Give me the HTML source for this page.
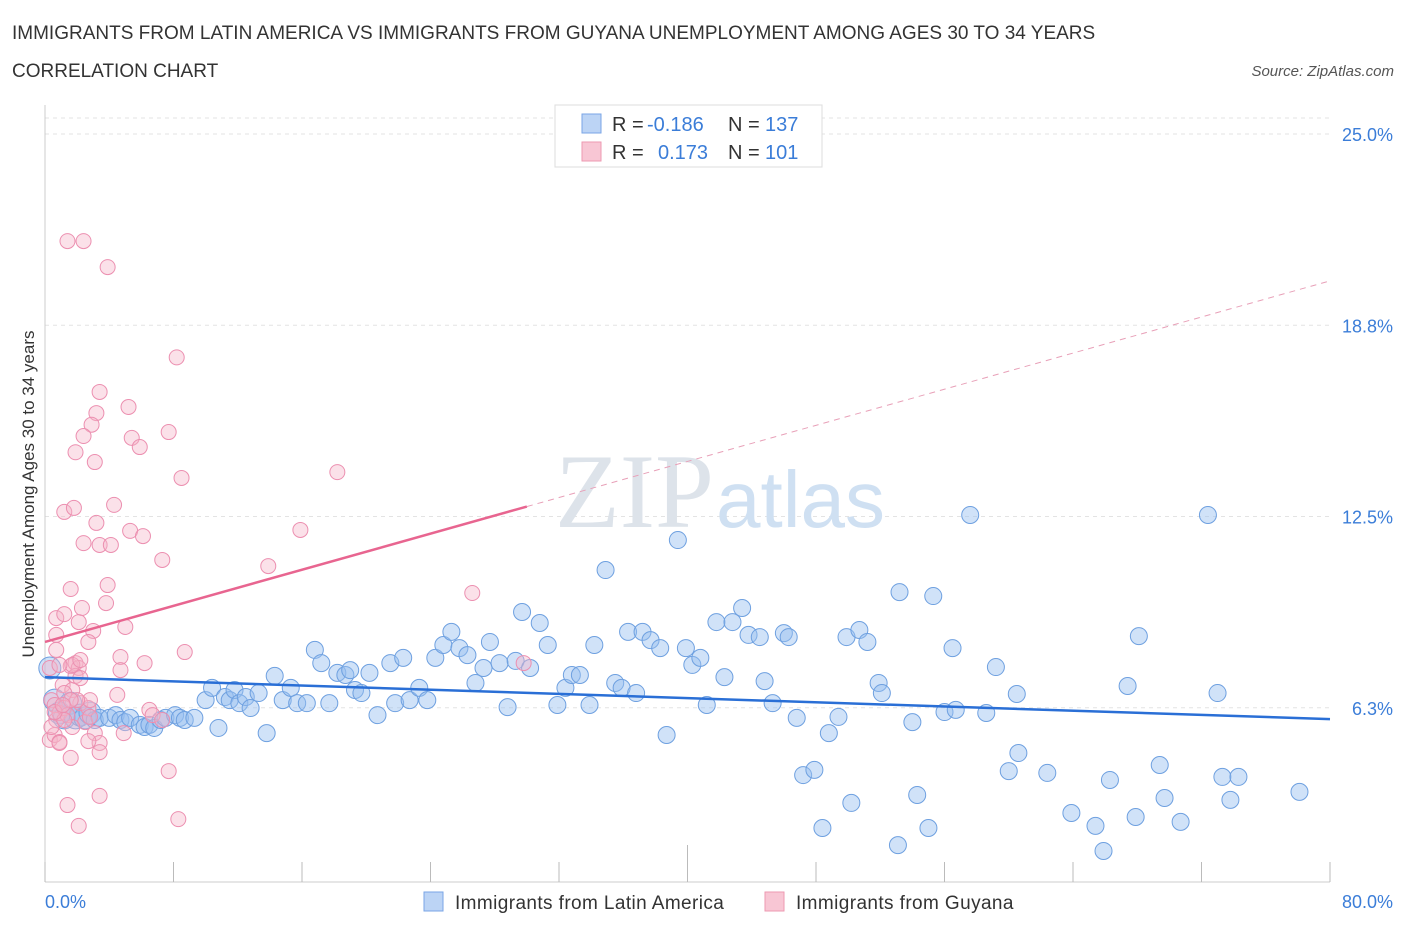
<!DOCTYPE html>
<html><head><meta charset="utf-8">
<style>
body{margin:0;background:#fff;font-family:"Liberation Sans",sans-serif;}
#wrap{position:relative;width:1406px;height:930px;overflow:hidden;}
</style></head>
<body>
<div id="wrap">
<svg id="chart" width="1406" height="930" xmlns="http://www.w3.org/2000/svg">
<text x="12" y="39" font-size="19" fill="#333">IMMIGRANTS FROM LATIN AMERICA VS IMMIGRANTS FROM GUYANA UNEMPLOYMENT AMONG AGES 30 TO 34 YEARS</text>
<text x="12" y="77" font-size="19" fill="#333">CORRELATION CHART</text>
<text x="1394" y="76" font-size="15" fill="#555" font-style="italic" text-anchor="end">Source: ZipAtlas.com</text>
<g id="grid"></g>
<text x="714" y="527" font-size="106" fill="#dde3ea" text-anchor="end" font-family="Liberation Serif,serif">ZIP</text>
<text x="716" y="527" font-size="80" fill="#cfe0f2">atlas</text>
<g id="axes"></g>
<g id="marks"></g>
<text transform="translate(34,494) rotate(-90)" font-size="17" fill="#333" text-anchor="middle">Unemployment Among Ages 30 to 34 years</text>
<text x="45" y="908" font-size="18" fill="#3b7dd8">0.0%</text>
<text x="1393" y="908" font-size="18" fill="#3b7dd8" text-anchor="end">80.0%</text>
<g>
<rect x="555" y="105" width="267" height="62" fill="#fff" stroke="#ddd"/>
<rect x="582" y="114" width="19" height="19" fill="#bcd4f5" stroke="#7aa5e6"/>
<rect x="582" y="142" width="19" height="19" fill="#f8c6d4" stroke="#ee99b2"/>
<text x="612" y="131" font-size="20" fill="#333">R =</text>
<text x="647" y="131" font-size="20" fill="#3b7dd8">-0.186</text>
<text x="728" y="131" font-size="20" fill="#333">N =</text>
<text x="765" y="131" font-size="20" fill="#3b7dd8">137</text>
<text x="612" y="159" font-size="20" fill="#333">R =</text>
<text x="658" y="159" font-size="20" fill="#3b7dd8">0.173</text>
<text x="728" y="159" font-size="20" fill="#333">N =</text>
<text x="765" y="159" font-size="20" fill="#3b7dd8">101</text>
</g>
<g>
<rect x="424" y="892" width="19" height="19" fill="#bcd4f5" stroke="#7aa5e6"/>
<text x="455" y="909" font-size="19" letter-spacing="0.4" fill="#333">Immigrants from Latin America</text>
<rect x="765" y="892" width="19" height="19" fill="#f8c6d4" stroke="#ee99b2"/>
<text x="796" y="909" font-size="19" letter-spacing="0.4" fill="#333">Immigrants from Guyana</text>
</g>
</svg>
</div>
<script>
const yTicks=[6.25,12.5,18.75,25];
const yTickLabels=["6.3%","12.5%","18.8%","25.0%"];
const xTicks=[0,8,16,24,32,40,48,56,64,72,80];
const blueX=[0.3,0.6,0.9,1.2,1.6,1.9,2.2,2.5,2.8,3.1,3.4,4.0,4.4,4.7,5.0,5.3,5.9,6.2,6.5,6.8,7.2,7.5,8.1,8.4,8.7,9.3,10.0,10.4,10.8,11.2,11.5,11.8,12.1,12.5,12.8,13.3,13.8,14.3,14.8,15.3,15.7,16.3,16.8,17.2,17.7,18.2,18.7,19.0,19.3,19.7,20.2,20.7,21.5,21.8,22.3,22.7,23.3,23.8,24.3,24.8,25.3,25.8,26.3,26.8,27.3,27.7,28.3,28.8,29.3,29.7,30.2,30.8,31.3,31.9,32.4,32.8,33.3,33.9,34.2,34.9,35.5,35.9,36.3,36.8,37.2,37.7,38.3,38.7,39.4,39.9,40.3,40.8,41.2,41.8,42.3,42.8,43.4,43.8,44.5,44.8,45.3,46.0,46.3,46.8,47.2,47.9,48.4,48.8,49.4,49.9,50.2,50.7,51.2,51.9,52.1,53.1,53.2,54.0,54.3,55.0,55.3,56.0,56.5,56.7,57.6,58.6,59.2,60.0,60.5,60.6,62.4,63.9,65.4,65.9,66.3,67.4,67.9,68.1,69.4,69.7,70.7,72.4,73.0,73.3,73.8,74.3,78.1];
const blueY=[7.55,6.5,6.08,5.92,6.4,5.92,6.01,5.92,6.08,5.85,5.92,5.92,6.01,5.85,5.78,5.92,5.69,5.62,5.69,5.59,5.85,5.92,6.01,5.92,5.85,5.92,6.5,6.9,5.59,6.6,6.5,6.83,6.4,6.6,6.24,6.73,5.42,7.29,6.5,6.9,6.4,6.4,8.14,7.71,6.4,7.39,7.32,7.48,6.83,6.73,7.39,6.01,7.71,6.4,7.88,6.5,6.9,6.5,7.88,8.3,8.73,8.2,7.97,7.06,7.55,8.4,7.71,6.27,7.78,9.38,7.55,9.02,8.3,6.34,6.9,7.32,7.32,6.34,8.3,10.75,7.06,6.9,8.73,6.73,8.73,8.46,8.2,5.36,11.73,8.2,7.65,7.88,6.34,9.05,7.25,9.05,9.51,8.63,8.56,7.12,6.4,8.69,8.56,5.92,4.05,4.22,2.32,5.42,5.95,8.56,3.14,8.79,8.4,7.06,6.73,1.76,10.03,5.78,3.4,2.32,9.9,6.11,8.2,6.18,12.55,6.08,7.58,4.18,6.7,4.77,4.12,2.81,2.39,1.57,3.89,6.96,2.68,8.59,4.38,3.3,2.52,12.55,6.73,3.99,3.24,3.99,3.5];
const pinkX=[0.3,0.4,0.6,0.7,0.9,1.1,1.2,1.4,1.6,1.7,1.9,2.1,2.2,2.5,2.7,0.3,0.6,0.9,1.4,2.4,3.9,8.2,3.4,3.2,5.2,2.9,2.4,5.4,7.7,5.9,1.9,3.1,8.5,18.2,4.3,1.2,1.8,3.2,5.3,6.1,2.4,3.4,4.1,15.9,7.3,13.9,1.6,3.9,0.7,1.2,3.8,2.3,2.1,5.0,3.0,0.7,2.7,8.7,4.7,6.2,1.9,4.7,26.6,29.8,0.7,4.5,2.8,6.5,6.7,7.3,1.7,3.1,4.9,3.4,3.4,2.7,0.9,1.6,7.7,3.4,1.4,2.1,8.3,1.7,0.9,2.0,1.2,0.4,1.2,2.8,2.2,1.6,0.6,1.1,2.2];
const pinkY=[7.55,6.5,6.34,5.85,6.08,6.99,6.24,6.01,7.61,6.83,7.71,7.55,6.4,5.78,6.24,5.2,5.36,5.13,21.5,21.5,20.65,17.7,16.57,15.88,16.08,15.5,15.13,15.07,15.26,14.77,14.6,14.28,13.76,13.95,12.88,12.65,12.78,12.29,12.03,11.86,11.63,11.57,11.57,12.06,11.08,10.88,10.13,10.26,9.18,9.31,9.67,9.51,9.05,8.89,8.76,8.63,8.4,8.07,7.91,7.71,7.29,7.48,10.0,7.71,8.14,6.67,6.5,6.18,6.01,5.85,5.62,5.42,5.42,5.1,4.8,5.16,5.1,4.61,4.18,3.37,3.07,2.39,2.61,7.65,7.65,6.5,6.73,5.62,5.85,5.95,7.81,6.5,6.11,6.34,7.22];
const blueTrend=[7.25,5.88];
const pinkTrend=[8.4,20.2];

const NS="http://www.w3.org/2000/svg";
const X0=45,X1=1330,Y0=899;
function sx(v){return X0+(X1-X0)*v/80;}
function sy(v){return Y0-v*(899-134)/25;}
function mk(tag,attrs,parent){const e=document.createElementNS(NS,tag);for(const k in attrs)e.setAttribute(k,attrs[k]);parent.appendChild(e);return e;}
const grid=document.getElementById('grid'),axes=document.getElementById('axes'),marks=document.getElementById('marks');
const gTop=mk('line',{x1:45,x2:1330,y1:118,y2:118,stroke:'#e3e3e3','stroke-dasharray':'4,4'},grid);


yTicks.forEach((t,i)=>{
  const l=mk('line',{x1:45,x2:1330,y1:sy(t),y2:sy(t),stroke:'#e3e3e3','stroke-dasharray':'4,4'},grid);
  
  
  const tx=mk('text',{x:1393,y:sy(t)+7,'font-size':18,fill:'#3b7dd8','text-anchor':'end'},axes);
  tx.textContent=yTickLabels[i];
  
  
});
const xl=mk('line',{x1:45,x2:1330,y1:882,y2:882,stroke:'#ccc'},axes);


const yl=mk('line',{x1:45,x2:45,y1:105,y2:882,stroke:'#ccc'},axes);


xTicks.forEach(t=>{
  const tk=mk('line',{x1:sx(t),x2:sx(t),y1:t===40?845:862,y2:882,stroke:'#bbb'},axes);
  
  
});
blueX.forEach((x,i)=>{
  const c=mk('circle',{cx:sx(x),cy:sy(blueY[i]),r:(x<3?11:8.5),fill:'rgba(150,190,240,0.45)',stroke:'#6ea0e0','stroke-width':1},marks);
  
  
});
pinkX.forEach((x,i)=>{
  const c=mk('circle',{cx:sx(x),cy:sy(pinkY[i]),r:7.5,fill:'rgba(245,180,200,0.4)',stroke:'#ec8fb0','stroke-width':1},marks);
  
  
});
const bt=mk('line',{x1:sx(0),y1:sy(blueTrend[0]),x2:sx(80),y2:sy(blueTrend[1]),stroke:'#2a6fd6','stroke-width':2.5},marks);


const pSlope=(pinkTrend[1]-pinkTrend[0])/80;
const pt=mk('line',{x1:sx(0),y1:sy(pinkTrend[0]),x2:sx(30),y2:sy(pinkTrend[0]+30*pSlope),stroke:'#e86590','stroke-width':2.5},marks);


const pd=mk('line',{x1:sx(30),y1:sy(pinkTrend[0]+30*pSlope),x2:sx(80),y2:sy(pinkTrend[1]),stroke:'#e8a0b8','stroke-width':1,'stroke-dasharray':'6,5'},marks);


</script>
</body></html>
